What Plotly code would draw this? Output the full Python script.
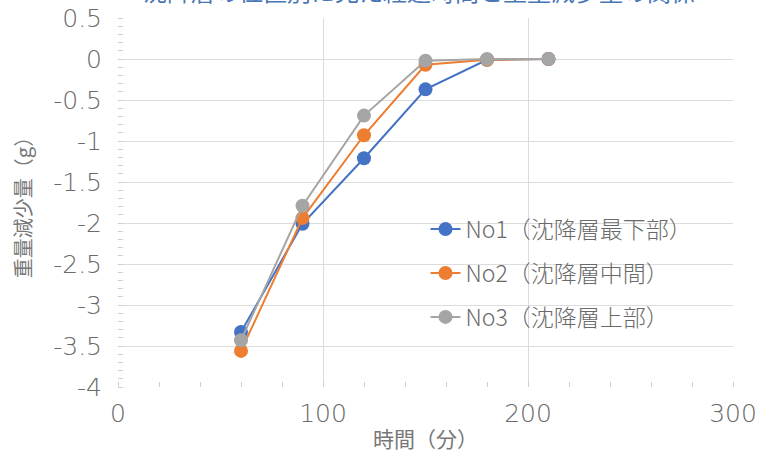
import plotly.graph_objects as go

# elapsed time (min) and weight loss (g) per sediment layer position
time_min = [60, 90, 120, 150, 180, 210]
no1_bottom = [-3.33, -2.01, -1.21, -0.37, -0.01, 0.0]
no2_middle = [-3.56, -1.94, -0.93, -0.07, -0.01, 0.0]
no3_top = [-3.43, -1.79, -0.69, -0.02, 0.0, 0.0]

series_names = ["No1（沈降層最下部）", "No2（沈降層中間）", "No3（沈降層上部）"]
series_colors = ["#4472C4", "#ED7D31", "#A5A5A5"]

y_tick_vals = [0.5, 0, -0.5, -1, -1.5, -2, -2.5, -3, -3.5, -4]
y_tick_text = ["0.5", "0", "-0.5", "-1", "-1.5", "-2", "-2.5", "-3", "-3.5", "-4"]
x_tick_vals = [0, 100, 200, 300]
x_tick_text = ["0", "100", "200", "300"]

chart_title = "沈降層の位置別に見た経過時間と重量減少量の関係"

CJK = "Noto Sans CJK JP, Noto Sans, sans-serif"
NUM = "DejaVu Sans, Noto Sans CJK JP, sans-serif"
TEXT_GRAY = "#6a6a6a"
GRID = "#dcdcdc"

fig = go.Figure()
for i, (name, ys, color) in enumerate(zip(series_names, [no1_bottom, no2_middle, no3_top], series_colors)):
    fig.add_trace(go.Scatter(
        x=time_min, y=ys, name=name, mode="lines+markers",
        line=dict(color=color, width=2),
        marker=dict(color=color, size=14),
        legendgroup=f"g{i}",
    ))

fig.update_layout(
    width=759, height=457,
    margin=dict(l=118, r=26, t=18, b=70, autoexpand=False),
    paper_bgcolor="white", plot_bgcolor="white",
    font=dict(family=CJK, color=TEXT_GRAY, size=21),
    showlegend=True,
    legend=dict(
        x=0.5, y=0.486, xanchor="left", yanchor="top",
        bgcolor="rgba(0,0,0,0)", borderwidth=0,
        font=dict(size=23, color=TEXT_GRAY, family=CJK, weight=300),
        itemwidth=30, tracegroupgap=11,
    ),
    xaxis=dict(
        range=[0, 300], tickvals=x_tick_vals, ticktext=x_tick_text,
        showgrid=True, gridcolor=GRID, gridwidth=1,
        showline=False, zeroline=False, ticks="",
        ticklabelstandoff=9,
        tickfont=dict(size=25, color=TEXT_GRAY, family=NUM, weight=200),
        minor=dict(dtick=20, tick0=0, ticks="inside", ticklen=5, tickcolor="#cfcfcf", showgrid=False),
        title=dict(text="時間（分）", font=dict(size=21, color="#777777", family=CJK), standoff=5),
    ),
    yaxis=dict(
        range=[-4, 0.5], tickvals=y_tick_vals, ticktext=y_tick_text,
        showgrid=True, gridcolor=GRID, gridwidth=1,
        showline=False, zeroline=False, ticks="",
        ticklabelstandoff=15,
        tickfont=dict(size=25, color=TEXT_GRAY, family=NUM, weight=200),
        minor=dict(dtick=0.1, tick0=0, ticks="inside", ticklen=5, tickcolor="#cfcfcf", showgrid=False),
        title=dict(text="重量減少量（g）", font=dict(size=20, color="#777777", family=CJK), standoff=16),
    ),
    annotations=[dict(
        text=chart_title, xref="paper", yref="paper", x=0.49, y=1.021,
        xanchor="center", yanchor="bottom", showarrow=False,
        font=dict(size=24, color="#4a76b8", family=CJK),
    )],
)

fig.write_html("out.html")
